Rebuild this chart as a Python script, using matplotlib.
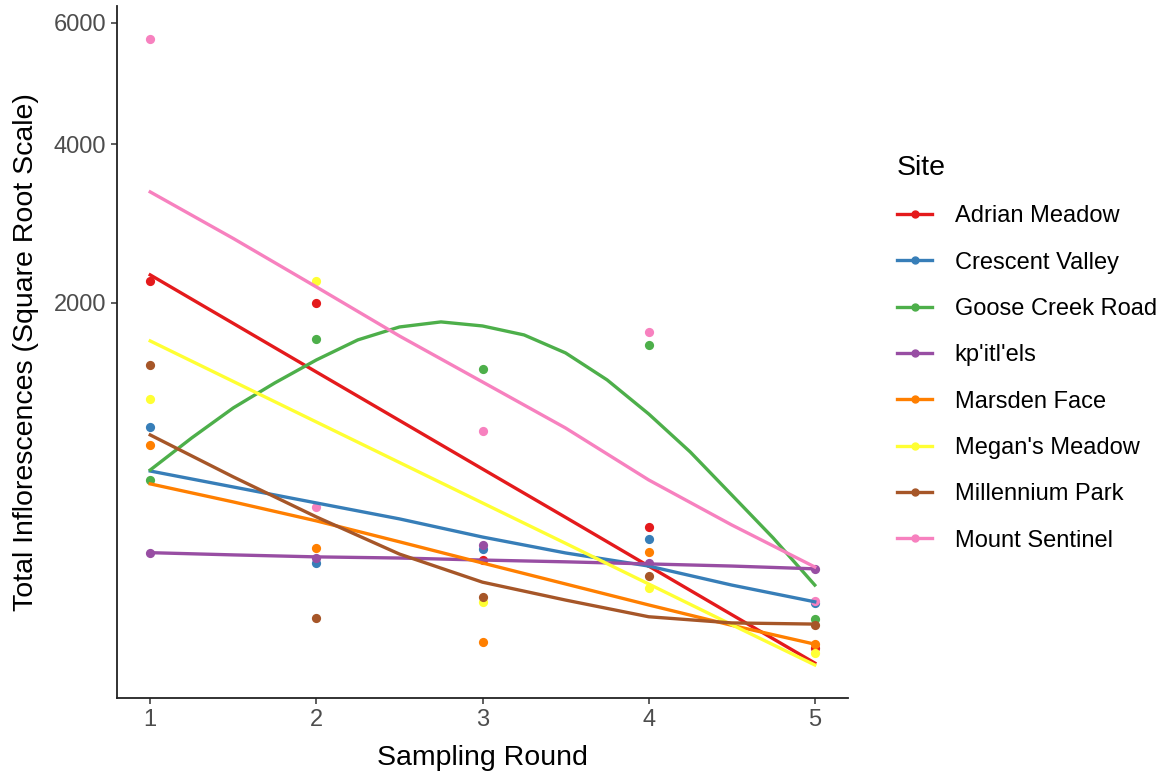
import numpy as np
import matplotlib
matplotlib.use("Agg")
import matplotlib.pyplot as plt
from matplotlib.lines import Line2D

plt.rcParams["font.family"] = ["Liberation Sans", "DejaVu Sans"]

sites = [
    "Adrian Meadow",
    "Crescent Valley",
    "Goose Creek Road",
    "kp'itl'els",
    "Marsden Face",
    "Megan's Meadow",
    "Millennium Park",
    "Mount Sentinel",
]
site_colors = ["#E41A1C", "#377EB8", "#4DAF4A", "#984EA3",
               "#FF7F00", "#FFFF33", "#A65628", "#F781BF"]

# total inflorescences counted per sampling round
rounds = [1, 2, 3, 4, 5]
adrian_counts = [2237, 2000, 214, 343, 19]
crescent_counts = [914, 203, 254, 293, 92]
goose_counts = [573, 1639, 1367, 1583, 59]
kpitlels_counts = [240, 220, 269, 204, 185]
marsden_counts = [789, 256, 26, 241, 23]
megan_counts = [1120, 2237, 95, 128, 14]
millennium_counts = [1402, 61, 107, 163, 50]
sentinel_counts = [5708, 436, 886, 1703, 98]

# smoothed trend per site, evaluated every half round
trend_rounds = [1, 1.5, 2, 2.5, 3, 3.5, 4, 4.5, 5]
adrian_trend = [2301, 1789, 1341, 958, 639, 385, 194, 68, 6.7]
crescent_trend = [627, 537, 454, 378, 300, 239, 194, 137, 95]
kpitlels_trend = [240, 232, 225, 221, 214, 208, 201, 194, 185]
marsden_trend = [554, 459, 369, 281, 204, 140, 88, 49, 23]
megan_trend = [1620, 1261, 947, 678, 454, 275, 140, 50, 5.6]
millennium_trend = [856, 593, 387, 235, 145, 99, 64, 53, 51]
sentinel_trend = [3326, 2728, 2168, 1667, 1257, 904, 576, 351, 191]

# Goose Creek bends hard, so its trend is kept every quarter round
goose_trend_rounds = [1, 1.25, 1.5, 1.75, 2, 2.25, 2.5, 2.75, 3,
                      3.25, 3.5, 3.75, 4, 4.25, 4.5, 4.75, 5]
goose_trend = [633, 836, 1051, 1249, 1446, 1630, 1754, 1804, 1764,
               1677, 1509, 1274, 1006, 744, 495, 296, 137]

counts = [adrian_counts, crescent_counts, goose_counts, kpitlels_counts,
          marsden_counts, megan_counts, millennium_counts, sentinel_counts]
trends = [
    (trend_rounds, adrian_trend),
    (trend_rounds, crescent_trend),
    (goose_trend_rounds, goose_trend),
    (trend_rounds, kpitlels_trend),
    (trend_rounds, marsden_trend),
    (trend_rounds, megan_trend),
    (trend_rounds, millennium_trend),
    (trend_rounds, sentinel_trend),
]


def sqrt_fwd(v):
    v = np.asarray(v, dtype=float)
    return np.sign(v) * np.sqrt(np.abs(v))


def sqrt_inv(v):
    v = np.asarray(v, dtype=float)
    return np.sign(v) * v ** 2


fig = plt.figure(figsize=(11.75, 7.8), dpi=100)
ax = fig.add_axes([117 / 1175, 1 - 698 / 780, (848 - 117) / 1175, (698 - 6) / 780])
ax.set_yscale("function", functions=(sqrt_fwd, sqrt_inv))

for vals, col in zip(counts, site_colors):
    ax.scatter(rounds, vals, s=44, color=col, linewidths=0, zorder=2)
for (xs, vals), col in zip(trends, site_colors):
    ax.plot(xs, vals, color=col, linewidth=2.4, zorder=3,
            solid_joinstyle="round")

ax.set_xlim(0.8, 5.2)
ax.set_ylim(-2.25, 6306)
ax.set_xticks(rounds)
ax.set_yticks([2000, 4000, 6000])
ax.set_yticklabels(["2000", "4000", "6000"])

for side in ["top", "right"]:
    ax.spines[side].set_visible(False)
for side in ["left", "bottom"]:
    ax.spines[side].set_color("#222222")
    ax.spines[side].set_linewidth(1.3)
ax.tick_params(axis="both", length=4, width=1.1, color="#333333",
               labelcolor="#4D4D4D", labelsize=17, pad=4)

ax.set_xlabel("Sampling Round", fontsize=20.5, color="black", labelpad=10)
ax.set_ylabel("Total Inflorescences (Square Root Scale)", fontsize=20.5,
              color="black", labelpad=10)

handles = [Line2D([0], [0], color=c, linewidth=2.4, marker="o", markersize=5)
           for c in site_colors]
leg = fig.legend(handles, sites, loc="upper left",
                 bbox_to_anchor=(897 / 1175, 1 - 155 / 780),
                 frameon=False, fontsize=17, title="Site",
                 title_fontsize=20.5, handlelength=1.5, handletextpad=0.95,
                 labelspacing=1.03, borderpad=0, borderaxespad=0,
                 alignment="left")

fig.savefig("out.png", dpi=100)
